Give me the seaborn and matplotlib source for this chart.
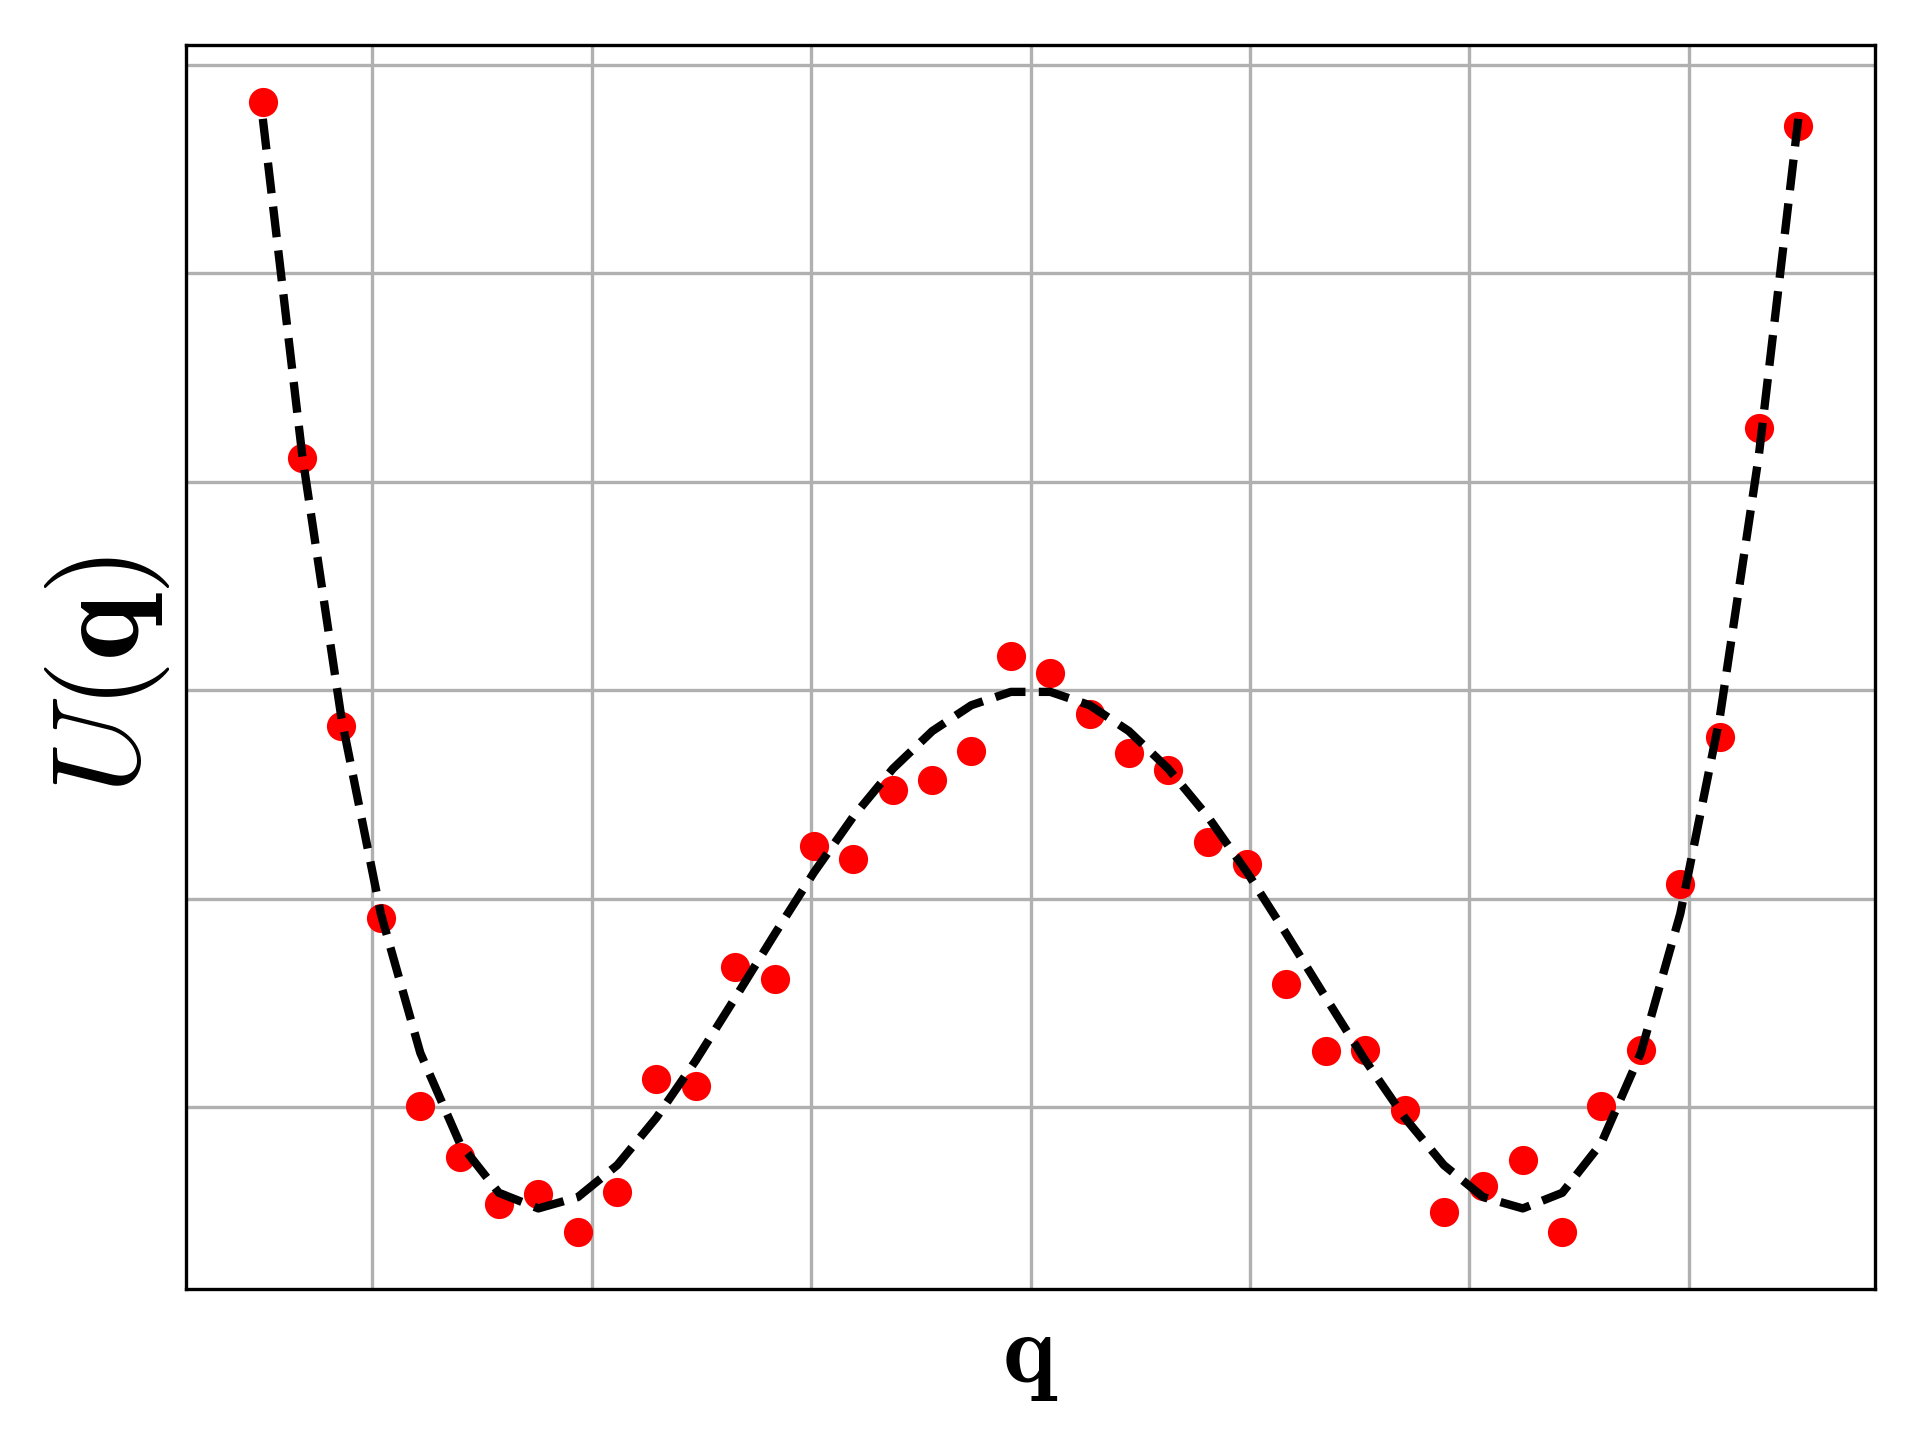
import matplotlib
matplotlib.use("Agg")
import matplotlib.pyplot as plt
import seaborn as sns
import pandas as pd

# positions along q (evenly spaced samples)
q_values = [-1.750, -1.660, -1.571, -1.481, -1.391, -1.301, -1.212, -1.122,
            -1.032, -0.942, -0.853, -0.763, -0.673, -0.583, -0.494, -0.404,
            -0.314, -0.224, -0.135, -0.045, 0.045, 0.135, 0.224, 0.314,
            0.404, 0.494, 0.583, 0.673, 0.763, 0.853, 0.942, 1.032,
            1.122, 1.212, 1.301, 1.391, 1.481, 1.571, 1.660, 1.750]

# noisy samples of the potential (red dots)
u_samples = [2.824, 1.116, -0.170, -1.092, -1.996, -2.237, -2.466, -2.419,
             -2.601, -2.407, -1.867, -1.897, -1.327, -1.386, -0.746, -0.810,
             -0.481, -0.429, -0.294, 0.164, 0.082, -0.112, -0.299, -0.382,
             -0.728, -0.834, -1.409, -1.732, -1.726, -2.014, -2.501, -2.378,
             -2.255, -2.601, -1.996, -1.726, -0.928, -0.223, 1.257, 2.707]

# true potential (dashed line)
u_true = [2.741, 1.125, -0.131, -1.072, -1.740, -2.173, -2.411, -2.486,
          -2.432, -2.278, -2.051, -1.776, -1.475, -1.169, -0.875, -0.606,
          -0.377, -0.196, -0.072, -0.008, -0.008, -0.072, -0.196, -0.377,
          -0.606, -0.875, -1.169, -1.475, -1.776, -2.051, -2.278, -2.432,
          -2.486, -2.411, -2.173, -1.740, -1.072, -0.131, 1.125, 2.741]

df = pd.DataFrame({"q": q_values, "samples": u_samples, "true": u_true})

plt.rcParams["mathtext.fontset"] = "cm"

fig, ax = plt.subplots(figsize=(6.4, 4.8), dpi=300)
fig.subplots_adjust(left=0.0969, right=0.9766, top=0.96875, bottom=0.1049)

sns.scatterplot(data=df, x="q", y="samples", ax=ax, color="red", s=49,
                linewidth=0, zorder=2)
sns.lineplot(data=df, x="q", y="true", ax=ax, color="black", linestyle="--",
             linewidth=2, zorder=3)

ax.grid(True, color="#b0b0b0", linewidth=0.8)
ax.set_axisbelow(True)
ax.tick_params(left=False, bottom=False, labelleft=False, labelbottom=False)
for s in ax.spines.values():
    s.set_color("black")
    s.set_linewidth(0.8)

ax.set_xlabel(r"$\mathbf{q}$", fontsize=24)
ax.set_ylabel(r"$U(\mathbf{q})$", fontsize=30, labelpad=3.3)
ax.yaxis.label.set_y(0.4935)

fig.savefig("out.png", dpi=300)
